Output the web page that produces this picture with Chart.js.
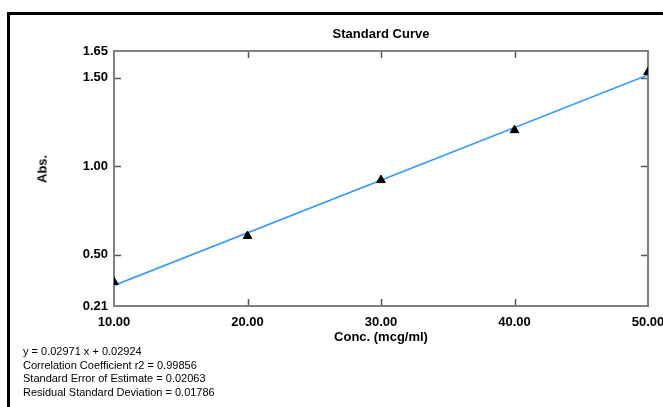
<!DOCTYPE html>
<html>
<head>
<meta charset="utf-8">
<title>Standard Curve</title>
<script src="https://cdn.jsdelivr.net/npm/chart.js@4/dist/chart.umd.min.js"></script>
<style>
  html, body { margin: 0; padding: 0; background: #fff; overflow: hidden; }
  #wrap { position: relative; width: 663px; height: 407px; overflow: hidden; font-family: "Liberation Sans", Arial, sans-serif; }
  #frame { position: absolute; left: 7px; top: 12px; width: 700px; height: 500px; border: 3px solid #000; }
  #chart { position: absolute; left: 0; top: 0; }
  #ylabel { position: absolute; left: 42px; top: 169px; transform: translate(-50%, -50%) rotate(-90deg); font-weight: bold; font-size: 13px; color: #000; white-space: nowrap; }
  #stats { position: absolute; left: 23px; top: 345px; font-size: 11px; line-height: 13.6px; color: #000; white-space: nowrap; }
</style>
</head>
<body>
<div id="wrap">
  <div id="frame"></div>
  <canvas id="chart" width="663" height="407"></canvas>
  <div id="ylabel">Abs.</div>
  <div id="stats"></div>
</div>
<script>
// standards: concentration vs absorbance
var concValues = [10, 20, 30, 40, 50];
var absValues = [0.345, 0.605, 0.921, 1.203, 1.531];
var yTickValues = [0.21, 0.50, 1.00, 1.50, 1.65];
var xTickValues = [10, 20, 30, 40, 50];

// fit results
var SLOPE = 0.02971;
var INTERCEPT = 0.02924;
var statLines = [
  'y = 0.02971 x + 0.02924',
  'Correlation Coefficient r2 = 0.99856',
  'Standard Error of Estimate = 0.02063',
  'Residual Standard Deviation = 0.01786'
];

var FONT = '"Liberation Sans", Arial, sans-serif';

window.onload = function() {
	document.getElementById('stats').innerHTML = statLines.join('<br>');
	initializeChart();
};

// box around the plot with short inward tick marks on all four sides
var plotFrame = {
	id: 'plotFrame',
	beforeDatasetsDraw: function(chart) {
		const ctx = chart.ctx;
		const a = chart.chartArea;
		const xs = chart.scales.x;
		const ys = chart.scales.y;
		const len = 7;
		ctx.save();
		ctx.strokeStyle = '#555';
		ctx.lineWidth = 1.5;
		ctx.beginPath();
		xTickValues.slice(1, -1).forEach(function(v) {
			var px = Math.round(xs.getPixelForValue(v)) + 0.5;
			ctx.moveTo(px, a.bottom); ctx.lineTo(px, a.bottom - len);
			ctx.moveTo(px, a.top); ctx.lineTo(px, a.top + len);
		});
		yTickValues.slice(1, -1).forEach(function(v) {
			var py = Math.round(ys.getPixelForValue(v)) + 0.5;
			ctx.moveTo(a.left, py); ctx.lineTo(a.left + len, py);
			ctx.moveTo(a.right, py); ctx.lineTo(a.right - len, py);
		});
		ctx.stroke();
		ctx.strokeStyle = '#808080';
		ctx.lineWidth = 2;
		ctx.strokeRect(a.left, a.top, a.right - a.left, a.bottom - a.top);
		ctx.restore();
	}
};

function initializeChart() {
	const points = concValues.map(function(x, i) { return {x: x, y: absValues[i]}; });
	const x0 = concValues[0];
	const x1 = concValues[concValues.length - 1];
	const fitLine = [
		{x: x0, y: SLOPE * x0 + INTERCEPT},
		{x: x1, y: SLOPE * x1 + INTERCEPT}
	];

	const ctx = document.getElementById('chart').getContext('2d');
	new Chart(ctx, {
		type: 'scatter',
		data: {
			datasets: [{
				label: 'Standards',
				data: points,
				pointStyle: 'triangle',
				pointRadius: 5,
				pointBackgroundColor: '#000',
				pointBorderColor: '#000',
				pointBorderWidth: 1
			}, {
				label: 'Fit',
				data: fitLine,
				showLine: true,
				pointRadius: 0,
				borderColor: '#3399ff',
				borderWidth: 1.6
			}]
		},
		options: {
			responsive: false,
			animation: false,
			events: [],
			layout: { padding: { left: 0, right: 15, top: 0, bottom: 62 } },
			plugins: {
				legend: { display: false },
				tooltip: { enabled: false },
				title: {
					display: true,
					fullSize: false,  // centre over the plot, not the canvas
					text: 'Standard Curve',
					color: '#000',
					font: { family: FONT, size: 13, weight: 'bold', lineHeight: 1.2 },
					padding: { top: 27, bottom: 8.4 }
				}
			},
			scales: {
				x: {
					type: 'linear',
					min: 10,
					max: 50,
					border: { display: false },
					grid: { display: false, drawTicks: false },
					afterBuildTicks: function(scale) {
						scale.ticks = xTickValues.map(function(v) { return {value: v}; });
					},
					afterFit: function(scale) {
						scale.height = 39;
						scale.paddingLeft = 0;
						scale.paddingRight = 0;
					},
					ticks: {
						autoSkip: false,
						maxRotation: 0,
						padding: 9,
						color: '#000',
						font: { family: FONT, size: 13, weight: 'bold', lineHeight: 1.2 },
						callback: function(v) { return Number(v).toFixed(2); }
					},
					title: {
						display: true,
						text: 'Conc. (mcg/ml)',
						color: '#000',
						padding: 0,
						font: { family: FONT, size: 13, weight: 'bold', lineHeight: 1.2 }
					}
				},
				y: {
					min: 0.21,
					max: 1.65,
					border: { display: false },
					grid: { display: false, drawTicks: false },
					afterBuildTicks: function(scale) {
						scale.ticks = yTickValues.map(function(v) { return {value: v}; });
					},
					afterFit: function(scale) {
						scale.width = 114;
					},
					ticks: {
						autoSkip: false,
						padding: 6,
						color: '#000',
						font: { family: FONT, size: 13, weight: 'bold', lineHeight: 1.2 },
						callback: function(v) { return Number(v).toFixed(2); }
					}
				}
			}
		},
		plugins: [plotFrame]
	});
}
</script>
</body>
</html>
